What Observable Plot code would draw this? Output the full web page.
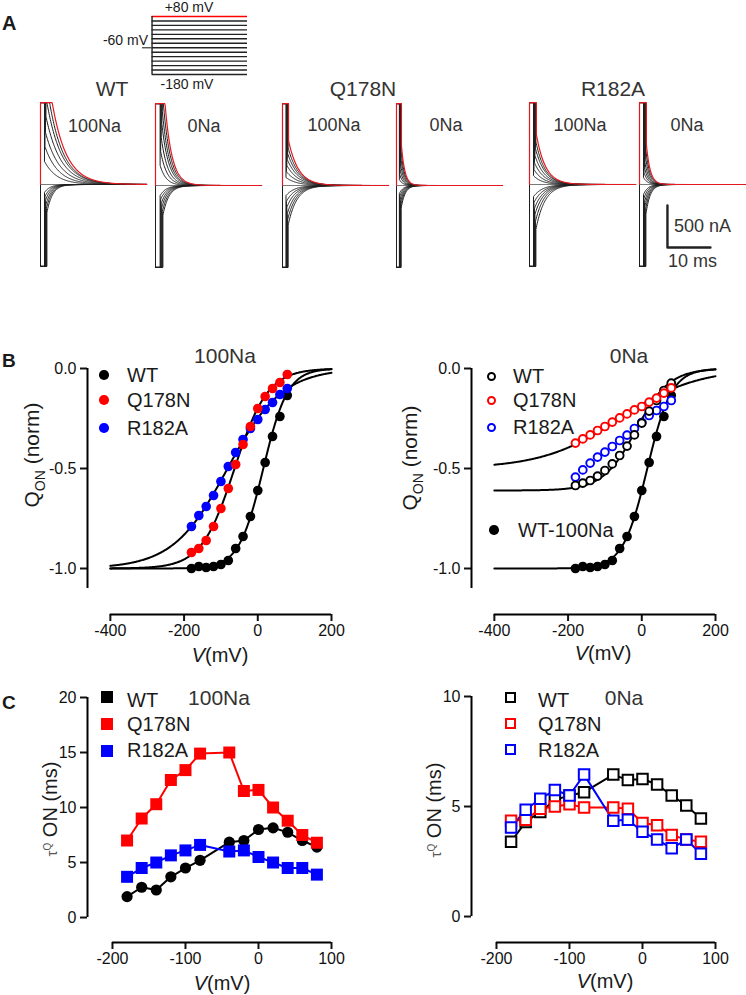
<!DOCTYPE html>
<html><head><meta charset="utf-8">
<script src="https://cdn.jsdelivr.net/npm/d3@7"></script>
<script src="https://cdn.jsdelivr.net/npm/@observablehq/plot@0.6"></script>
<style>
body{margin:0;background:#fff;}
#fig{position:relative;width:746px;height:995px;overflow:hidden;font-family:"Liberation Sans",Arial,Helvetica,sans-serif;color:#1a1a1a;background:#fff;}
#fig svg{position:absolute;left:0;top:0;}
.lab{position:absolute;white-space:nowrap;line-height:1;}
</style></head><body><div id="fig"></div><script>
// ================= DATA =================
// Panel A: voltage protocol
const stepVoltages = [-180,-160,-140,-120,-100,-80,-60,-40,-20,0,20,40,60,80];
const holdingVoltage = -60;
// Panel A: current traces (amplitude after clipped transient, nA; decay time constant, ms)
const traceVoltages = [80,60,40,20,0,-20,-40,-80,-100,-120,-140,-160,-180];
const ampWT100   = [1370,1180,1010,810,620,450,275,-95,-145,-190,-240,-285,-335];
const tauWT100tr = [3.3,3.3,3.4,3.4,3.3,3.1,2.9,1.3,1.3,1.3,1.3,1.3,1.3];
const ampWT0     = [1225,1045,880,740,570,405,240,-120,-165,-215,-260,-310,-355];
const tauWT0tr   = [1.6,1.6,1.6,1.6,1.55,1.5,1.4,1.4,1.4,1.4,1.4,1.4,1.4];
const ampQ100    = [535,450,380,310,240,165,95,-120,-190,-260,-335,-405,-475];
const tauQ100tr  = [2.3,2.4,2.5,2.6,2.6,2.6,2.5,2.0,2.0,2.0,2.0,2.0,2.0];
const ampQ0      = [475,405,335,260,190,130,70,-95,-130,-165,-200,-240,-275];
const tauQ0tr    = [0.8,0.8,0.8,0.8,0.8,0.8,0.8,0.9,0.9,0.9,0.9,0.9,0.9];
const ampR100    = [595,510,430,345,260,180,105,-145,-215,-285,-355,-440,-535];
const tauR100tr  = [2.1,2.1,2.2,2.2,2.2,2.1,2.0,2.1,2.1,2.1,2.1,2.1,2.1];
const ampR0      = [475,405,335,260,200,145,85,-120,-165,-215,-260,-310,-355];
const tauR0tr    = [0.9,0.9,0.9,0.9,0.9,0.9,0.9,1.0,1.0,1.0,1.0,1.0,1.0];
const clipDuration = [1.6,1.85,1.4,1.15,1.6,1.6]; // ms the largest transient stays saturated
const clipFraction = [1.0,0.93,0.86,0.79,0.72,0.65,0.58,0.58,0.65,0.72,0.79,0.86,0.93];
const ampClip = 975;            // nA saturation
const scaleBarNa = 500, scaleBarMs = 10;

// Panel B: normalized Q_ON vs V
const qVoltages = [-180,-160,-140,-120,-100,-80,-60,-40,-20,0,20,40,60,80];
const qWT100    = [-1.0,-0.99,-0.995,-0.99,-0.98,-0.96,-0.90,-0.84,-0.74,-0.61,-0.47,-0.34,-0.24,-0.135];
const qQ178N100 = [-0.92,-0.90,-0.86,-0.79,-0.70,-0.60,-0.48,-0.38,-0.29,-0.20,-0.14,-0.10,-0.07,-0.03];
const qR182A100 = [-0.79,-0.735,-0.69,-0.635,-0.565,-0.49,-0.42,-0.355,-0.30,-0.255,-0.205,-0.17,-0.13,-0.10];
const qWT0      = [-0.585,-0.573,-0.56,-0.538,-0.51,-0.477,-0.435,-0.388,-0.332,-0.273,-0.213,-0.16,-0.11,-0.073];
const qQ178N0   = [-0.373,-0.352,-0.332,-0.31,-0.29,-0.268,-0.247,-0.227,-0.207,-0.19,-0.168,-0.148,-0.123,-0.097];
const qR182A0   = [-0.543,-0.507,-0.473,-0.443,-0.418,-0.39,-0.36,-0.333,-0.30,-0.27,-0.235,-0.21,-0.19,-0.16];
// Boltzmann fits: Q = Qmin / (1 + exp((V - Vhalf)/k))
const fitNames = ["WT100","Q178N100","R182A100","WT0","Q178N0"];
const fitQmin  = [-1,-1,-1,-0.61,-0.5];
const fitVhalf = [15,-63,-82,-15,-60];
const fitSlope = [33,45,74,45,105];

// Panel C: tau ON vs V
const tauVoltages = [-180,-160,-140,-120,-100,-80,-40,-20,0,20,40,60,80];
const tauWT100    = [1.9,2.75,2.5,3.7,4.5,5.2,6.85,7.0,8.0,8.15,7.75,7.0,6.4];
const tauQ178N100 = [7.0,9.0,10.3,12.5,13.4,14.9,15.0,11.5,11.6,10.0,8.8,7.5,6.8];
const tauR182A100 = [3.7,4.5,5.0,5.65,6.1,6.6,6.0,6.1,5.5,5.0,4.5,4.5,3.9];
const tauWT0      = [3.4,4.3,4.75,5.3,5.5,5.65,6.45,6.2,6.25,6.0,5.5,5.05,4.45];
const tauQ178N0   = [4.35,4.4,4.9,5.0,5.1,4.95,4.95,4.9,4.25,4.15,3.7,3.5,3.4];
const tauR182A0   = [4.05,4.85,5.35,5.75,5.5,6.45,4.35,4.4,3.85,3.5,3.1,3.5,2.85];

// ================= LAYOUT / STYLE =================
const W = 746, H = 995;
const RED = "#ff0000", BLUE = "#0000ff", BLACK = "#000000";
const FONT = '"Liberation Sans", Arial, Helvetica, sans-serif';
const fig = document.getElementById("fig");
const svgStyle = {background: "transparent", overflow: "visible", fontFamily: FONT, fontSize: "16px", color: "#111"};
function frame(l, t, r, b) {
  return {width: W, height: H, marginLeft: l, marginTop: t, marginRight: W - r, marginBottom: H - b, style: svgStyle};
}
function lab(html, x, baseline, fs, anchor = "start", extra = "") {
  const d = document.createElement("div");
  d.className = "lab";
  const tx = anchor === "middle" ? "-50%" : anchor === "end" ? "-100%" : "0";
  d.style.cssText = `left:${x}px;top:${baseline - 0.8465 * fs}px;font-size:${fs}px;transform:translateX(${tx});${extra}`;
  d.innerHTML = html;
  fig.appendChild(d);
}
function rotLab(html, cx, cy, fs, extra = "") {
  const d = document.createElement("div");
  d.className = "lab";
  d.style.cssText = `left:${cx}px;top:${cy}px;font-size:${fs}px;transform:translate(-50%,-50%) rotate(-90deg);${extra}`;
  d.innerHTML = html;
  fig.appendChild(d);
}
function marker(shape, cx, cy, size, color, open) {
  const d = document.createElement("div");
  d.style.cssText = `position:absolute;left:${cx - size / 2}px;top:${cy - size / 2}px;width:${size}px;height:${size}px;box-sizing:border-box;` +
    (shape === "circle" ? "border-radius:50%;" : "") +
    (open ? `border:2px solid ${color};background:#fff;` : `background:${color};`);
  fig.appendChild(d);
}

// ================= PANEL A: protocol =================
fig.appendChild(Plot.plot({
  ...frame(142, 16, 247, 74),
  x: {domain: [-0.1, 1], axis: null},
  y: {domain: [-180, 80], axis: null},
  marks: [
    Plot.ruleY(stepVoltages, {x1: 0, x2: 1, stroke: d => d === 80 ? RED : "#222", strokeWidth: 1.4}),
    Plot.ruleX([0], {y1: -180, y2: 80, stroke: "#222", strokeWidth: 1.4}),
    Plot.ruleY([holdingVoltage], {x1: -0.1, x2: 0, stroke: "#555", strokeWidth: 1.4})
  ]
}));
lab("+80 mV", 189, 12, 14, "middle");
lab("-60 mV", 148, 45, 14, "end");
lab("-180 mV", 187, 89, 14, "middle");

// ================= PANEL A: traces =================
const PX_PER_MS = 4.3, PX_PER_NA = 0.084, T_END = 24.7, YMAX = 1000;
const tracePanels = [
  {amp: ampWT100, tau: tauWT100tr}, {amp: ampWT0, tau: tauWT0tr},
  {amp: ampQ100, tau: tauQ100tr},   {amp: ampQ0, tau: tauQ0tr},
  {amp: ampR100, tau: tauR100tr},   {amp: ampR0, tau: tauR0tr}
];
const traceOriginX = [40, 155, 282, 396, 529, 639];
const traceBaseY = [184, 185, 185, 185, 184, 184];
function traceRows(amps, taus, clipDur) {
  const rows = [];
  amps.forEach((a, i) => {
    const v = traceVoltages[i], s = Math.sign(a), tau = taus[i];
    const hold = clipDur * clipFraction[i];
    rows.push({v, t: 0, I: 0}, {v, t: 0, I: s * ampClip}, {v, t: hold, I: s * ampClip});
    for (let t = hold; t <= T_END + 1e-9; t += 0.1) {
      rows.push({v, t, I: s * Math.min(ampClip, Math.abs(a) * Math.exp(-(t - hold) / tau))});
    }
  });
  return rows;
}
tracePanels.forEach((p, k) => {
  const rows = traceRows(p.amp, p.tau, clipDuration[k]);
  const x0 = traceOriginX[k], base = traceBaseY[k];
  const marks = [
    Plot.ruleY([0], {stroke: "#7a7a7a", strokeWidth: 1}),
    Plot.line(rows.filter(d => d.v !== 80), {x: "t", y: "I", z: "v", stroke: "#1e1e1e", strokeWidth: 1}),
    Plot.line(rows.filter(d => d.v === 80), {x: "t", y: "I", stroke: "#e3191f", strokeWidth: 1.2})
  ];
  if (k === 5) {
    const sbT = 6.5, sbI = -250;
    const bar = [{t: sbT, I: sbI}, {t: sbT, I: sbI - scaleBarNa}, {t: sbT + scaleBarMs, I: sbI - scaleBarNa}];
    marks.push(Plot.line(bar, {x: "t", y: "I", stroke: "#222", strokeWidth: 2.4}));
  }
  fig.appendChild(Plot.plot({
    ...frame(x0, base - YMAX * PX_PER_NA, x0 + T_END * PX_PER_MS, base + YMAX * PX_PER_NA),
    x: {domain: [0, T_END], axis: null},
    y: {domain: [-YMAX, YMAX], axis: null},
    marks
  }));
});
lab("A", 2, 30, 20, "start", "font-weight:bold;");
lab("WT", 112, 96, 21, "middle", "color:#333;");
lab("Q178N", 363, 96, 21, "middle", "color:#333;");
lab("R182A", 613, 96, 21, "middle", "color:#333;");
[[94.5, "100Na", 132], [204, "0Na", 132], [334, "100Na", 131], [446, "0Na", 131], [580, "100Na", 131], [687, "0Na", 131]]
  .forEach(([x, s, b]) => lab(s, x, b, 18, "middle", "color:#333;"));
lab("500 nA", 674, 232, 18, "start", "color:#333;");
lab("10 ms", 668, 267, 18, "start", "color:#333;");

// ================= shared axis helper =================
function axes({xTicks, yTicks, yFmt, xLine, yLine, xmin, ymin}) {
  return [
    Plot.axisX({ticks: xTicks, tickFormat: d => String(d), tickSize: 7, tickPadding: 3, strokeWidth: 2, label: null, fontSize: 16}),
    Plot.axisY({ticks: yTicks, tickFormat: yFmt, tickSize: 7, tickPadding: 4, strokeWidth: 2, label: null, fontSize: 16}),
    Plot.ruleY([ymin], {x1: xLine[0], x2: xLine[1], stroke: "#000", strokeWidth: 2}),
    Plot.ruleX([xmin], {y1: yLine[0], y2: yLine[1], stroke: "#000", strokeWidth: 2})
  ];
}
const toRows = (xs, ys) => xs.map((V, i) => ({V, y: ys[i]}));
function fitRows(i) {
  return d3.range(-400, 200.01, 2).map(V => ({V, y: fitQmin[i] / (1 + Math.exp((V - fitVhalf[i]) / fitSlope[i]))}));
}

// ================= PANEL B =================
const bXmin = -462, bYmin = -1.23;
const bAxes = axes({xTicks: [-400, -200, 0, 200], yTicks: [0, -0.5, -1], yFmt: d => d.toFixed(1),
  xLine: [-400, 200], yLine: [-1.1, 0], xmin: bXmin, ymin: bYmin});
function bPlot(left, right, marks) {
  return Plot.plot({
    ...frame(left, 368, right, 614),
    x: {domain: [bXmin, 200], label: null},
    y: {domain: [bYmin, 0], label: null},
    marks: [...bAxes, ...marks]
  });
}
fig.appendChild(bPlot(87, 331, [
  ...[0, 1, 2].map(i => Plot.line(fitRows(i), {x: "V", y: "y", stroke: "#000", strokeWidth: 2})),
  Plot.dot(toRows(qVoltages, qWT100), {x: "V", y: "y", r: 4.8, fill: BLACK}),
  Plot.dot(toRows(qVoltages, qR182A100), {x: "V", y: "y", r: 4.8, fill: BLUE}),
  Plot.dot(toRows(qVoltages, qQ178N100), {x: "V", y: "y", r: 4.8, fill: RED})
]));
fig.appendChild(bPlot(471, 715, [
  ...[0, 3, 4].map(i => Plot.line(fitRows(i), {x: "V", y: "y", stroke: "#000", strokeWidth: 2})),
  Plot.dot(toRows(qVoltages, qWT100), {x: "V", y: "y", r: 4.8, fill: BLACK}),
  Plot.dot(toRows(qVoltages, qR182A0), {x: "V", y: "y", r: 3.9, fill: "#fff", stroke: BLUE, strokeWidth: 1.9}),
  Plot.dot(toRows(qVoltages, qWT0), {x: "V", y: "y", r: 3.9, fill: "#fff", stroke: BLACK, strokeWidth: 1.9}),
  Plot.dot(toRows(qVoltages, qQ178N0), {x: "V", y: "y", r: 3.9, fill: "#fff", stroke: RED, strokeWidth: 1.9})
]));
lab("B", 2, 367, 19, "start", "font-weight:bold;");
lab("100Na", 225, 363, 21, "middle", "color:#333;");
lab("0Na", 629, 363, 21, "middle", "color:#333;");
const qLabel = 'Q<sub style="font-size:14px">ON</sub> (norm)';
rotLab(qLabel, 34, 455, 21);
rotLab(qLabel, 412, 458, 21);
lab("<i>V</i>(mV)", 220, 662, 20, "middle");
lab("<i>V</i>(mV)", 603, 660, 20, "middle");
// legends B
[["WT", BLACK, 375], ["Q178N", RED, 400], ["R182A", BLUE, 428]].forEach(([s, c, y]) => {
  marker("circle", 104, y, 9.6, c, false);
  lab(s, 127, y + 7.2, 20);
});
[["WT", BLACK, 376], ["Q178N", RED, 400], ["R182A", BLUE, 427]].forEach(([s, c, y]) => {
  marker("circle", 491, y, 9, c, true);
  lab(s, 513, y + 7.2, 20);
});
marker("circle", 494, 530, 9.6, BLACK, false);
lab("WT-100Na", 518, 537, 20);

// ================= PANEL C =================
const cXmin = -234.2;
function cPlot(left, right, yTop, ymax, ymin, yTicks, marks) {
  return Plot.plot({
    ...frame(left, yTop, right, 942),
    x: {domain: [cXmin, 100], label: null},
    y: {domain: [ymin, ymax], label: null},
    marks: [...axes({xTicks: [-200, -100, 0, 100], yTicks, yFmt: d => String(d), xLine: [-200, 100], yLine: [0, ymax], xmin: cXmin, ymin}), ...marks]
  });
}
const SQ = 12 / Math.sqrt(Math.PI), SQO = 10.5 / Math.sqrt(Math.PI);
fig.appendChild(cPlot(87, 331, 697, 20, -2.27, [0, 5, 10, 15, 20], [
  Plot.line(toRows(tauVoltages, tauWT100), {x: "V", y: "y", stroke: BLACK, strokeWidth: 2}),
  Plot.line(toRows(tauVoltages, tauR182A100), {x: "V", y: "y", stroke: BLUE, strokeWidth: 2}),
  Plot.line(toRows(tauVoltages, tauQ178N100), {x: "V", y: "y", stroke: RED, strokeWidth: 2}),
  Plot.dot(toRows(tauVoltages, tauWT100), {x: "V", y: "y", r: 5.6, fill: BLACK}),
  Plot.dot(toRows(tauVoltages, tauR182A100), {x: "V", y: "y", r: SQ, symbol: "square", fill: BLUE}),
  Plot.dot(toRows(tauVoltages, tauQ178N100), {x: "V", y: "y", r: SQ, symbol: "square", fill: RED})
]));
fig.appendChild(cPlot(471, 715, 696, 10, -1.18, [0, 5, 10], [
  Plot.line(toRows(tauVoltages, tauWT0), {x: "V", y: "y", stroke: BLACK, strokeWidth: 2}),
  Plot.line(toRows(tauVoltages, tauQ178N0), {x: "V", y: "y", stroke: RED, strokeWidth: 2}),
  Plot.line(toRows(tauVoltages, tauR182A0), {x: "V", y: "y", stroke: BLUE, strokeWidth: 2}),
  Plot.dot(toRows(tauVoltages, tauWT0), {x: "V", y: "y", r: SQO, symbol: "square", fill: "#fff", stroke: BLACK, strokeWidth: 2}),
  Plot.dot(toRows(tauVoltages, tauQ178N0), {x: "V", y: "y", r: SQO, symbol: "square", fill: "#fff", stroke: RED, strokeWidth: 2}),
  Plot.dot(toRows(tauVoltages, tauR182A0), {x: "V", y: "y", r: SQO, symbol: "square", fill: "#fff", stroke: BLUE, strokeWidth: 2})
]));
lab("C", 2, 709, 19, "start", "font-weight:bold;");
lab("100Na", 219, 705, 21, "middle", "color:#333;");
lab("0Na", 624, 705, 21, "middle", "color:#333;");
const tauLabel = '<span style="font-size:15px;color:#555">τ<sup style="font-size:10px">Q</sup></span> ON (ms)';
rotLab(tauLabel, 50, 809, 20);
rotLab(tauLabel, 434, 810, 20);
lab("<i>V</i>(mV)", 222, 990, 20, "middle");
lab("<i>V</i>(mV)", 605, 988, 20, "middle");
[["WT", BLACK, 697, 700], ["Q178N", RED, 724, 724], ["R182A", BLUE, 751, 750]].forEach(([s, c, y, ty]) => {
  marker("square", 107, y, 12.5, c, false);
  lab(s, 127, ty + 7.2, 20);
});
[["WT", BLACK, 697, 700], ["Q178N", RED, 723, 724], ["R182A", BLUE, 749, 750]].forEach(([s, c, y, ty]) => {
  marker("square", 510, y, 11, c, true);
  lab(s, 538, ty + 7.2, 20);
});
</script></body></html>
